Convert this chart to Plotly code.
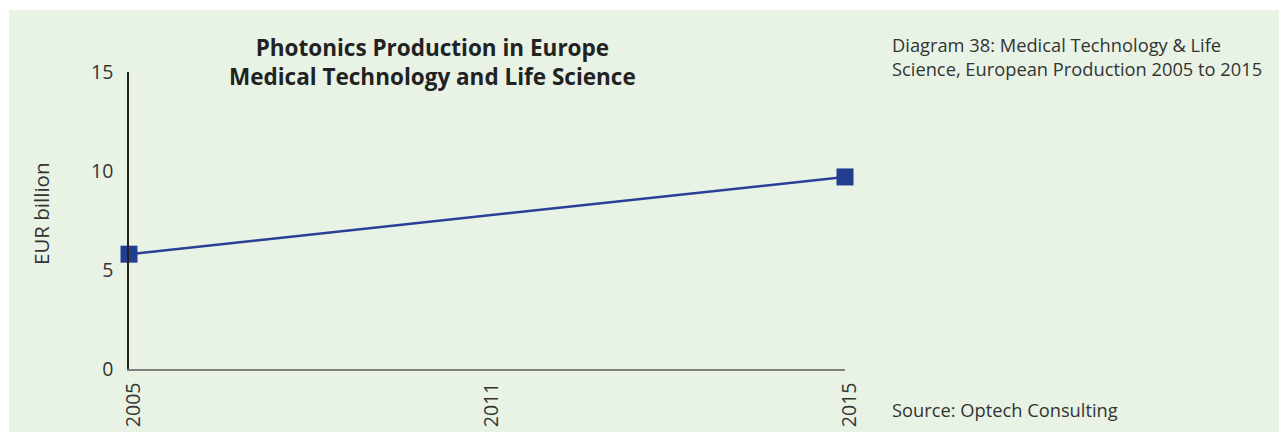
import plotly.graph_objects as go

years = ["2005", "2015"]
values = [5.8, 9.7]
tick_years = ["2005", "2011", "2015"]
y_ticks = [0, 5, 10, 15]

OFF = 8  # browser body margin
W, H = 1287 - OFF, 432 - OFF
L, R, T, B = 129 - OFF, 442, 72 - OFF, 63
pw, ph = W - L - R, H - T - B

def px(x):
    return (x - OFF - L) / pw

def py(y):
    return (H - B - (y - OFF)) / ph

FONT = "Open Sans"
TXT = "#333333"
GREEN = "#e8f3e6"

fig = go.Figure()
fig.add_trace(go.Scatter(
    x=years, y=values, mode="lines+markers",
    line=dict(color="#2a3f96", width=2.5),
    marker=dict(symbol="square", size=17, color="#243e8f"),
    cliponaxis=False, showlegend=False,
))

fig.update_layout(
    width=W, height=H,
    margin=dict(l=L, r=R, t=T, b=B),
    paper_bgcolor=GREEN, plot_bgcolor=GREEN,
    font=dict(family=FONT, color=TXT, size=18),
    xaxis=dict(
        type="category", categoryorder="array", categoryarray=tick_years,
        range=[0, len(tick_years) - 1], tickvals=tick_years, automargin=False,
        tickangle=-90, showgrid=False, zeroline=False, showline=True,
        linecolor="#808080", linewidth=1.5, ticks="", ticklabelstandoff=4,
        ticklabelshift=5,
        tickfont=dict(size=19.5, family=FONT, color=TXT),
    ),
    yaxis=dict(
        range=[0, 15], tickvals=y_ticks, showgrid=False, zeroline=False, automargin=False,
        showline=True, linecolor="#222222", linewidth=1.5, ticks="",
        ticklabelstandoff=10, tickfont=dict(size=19.5, family=FONT, color=TXT),
    ),
    shapes=[
        dict(type="rect", xref="paper", yref="paper", x0=px(0), x1=px(1290), y0=py(0), y1=py(10),
             fillcolor="white", line=dict(width=0), layer="below"),
        dict(type="rect", xref="paper", yref="paper", x0=px(0), x1=px(9), y0=py(0), y1=py(440),
             fillcolor="white", line=dict(width=0), layer="below"),
    ],
    annotations=[
        dict(text="<b>Photonics Production in Europe<br>Medical Technology and Life Science</b>",
             xref="paper", yref="paper", x=px(432), y=py(62), xanchor="center", yanchor="middle",
             showarrow=False, font=dict(size=22.5, family=FONT, color="#222222"), align="center"),
        dict(text="EUR billion", xref="paper", yref="paper", x=px(41), y=py(214),
             xanchor="center", yanchor="middle", textangle=-90, showarrow=False,
             font=dict(size=20.5, family=FONT, color=TXT)),
        dict(text="Diagram 38: Medical Technology &amp; Life<br>Science, European Production 2005 to 2015",
             xref="paper", yref="paper", x=px(890), y=py(57), xanchor="left", yanchor="middle",
             showarrow=False, align="left", font=dict(size=18.3, family=FONT, color=TXT)),
        dict(text="Source: Optech Consulting",
             xref="paper", yref="paper", x=px(890), y=py(409), xanchor="left", yanchor="middle",
             showarrow=False, align="left", font=dict(size=18.3, family=FONT, color=TXT)),
    ],
)

fig.write_html("out.html")
